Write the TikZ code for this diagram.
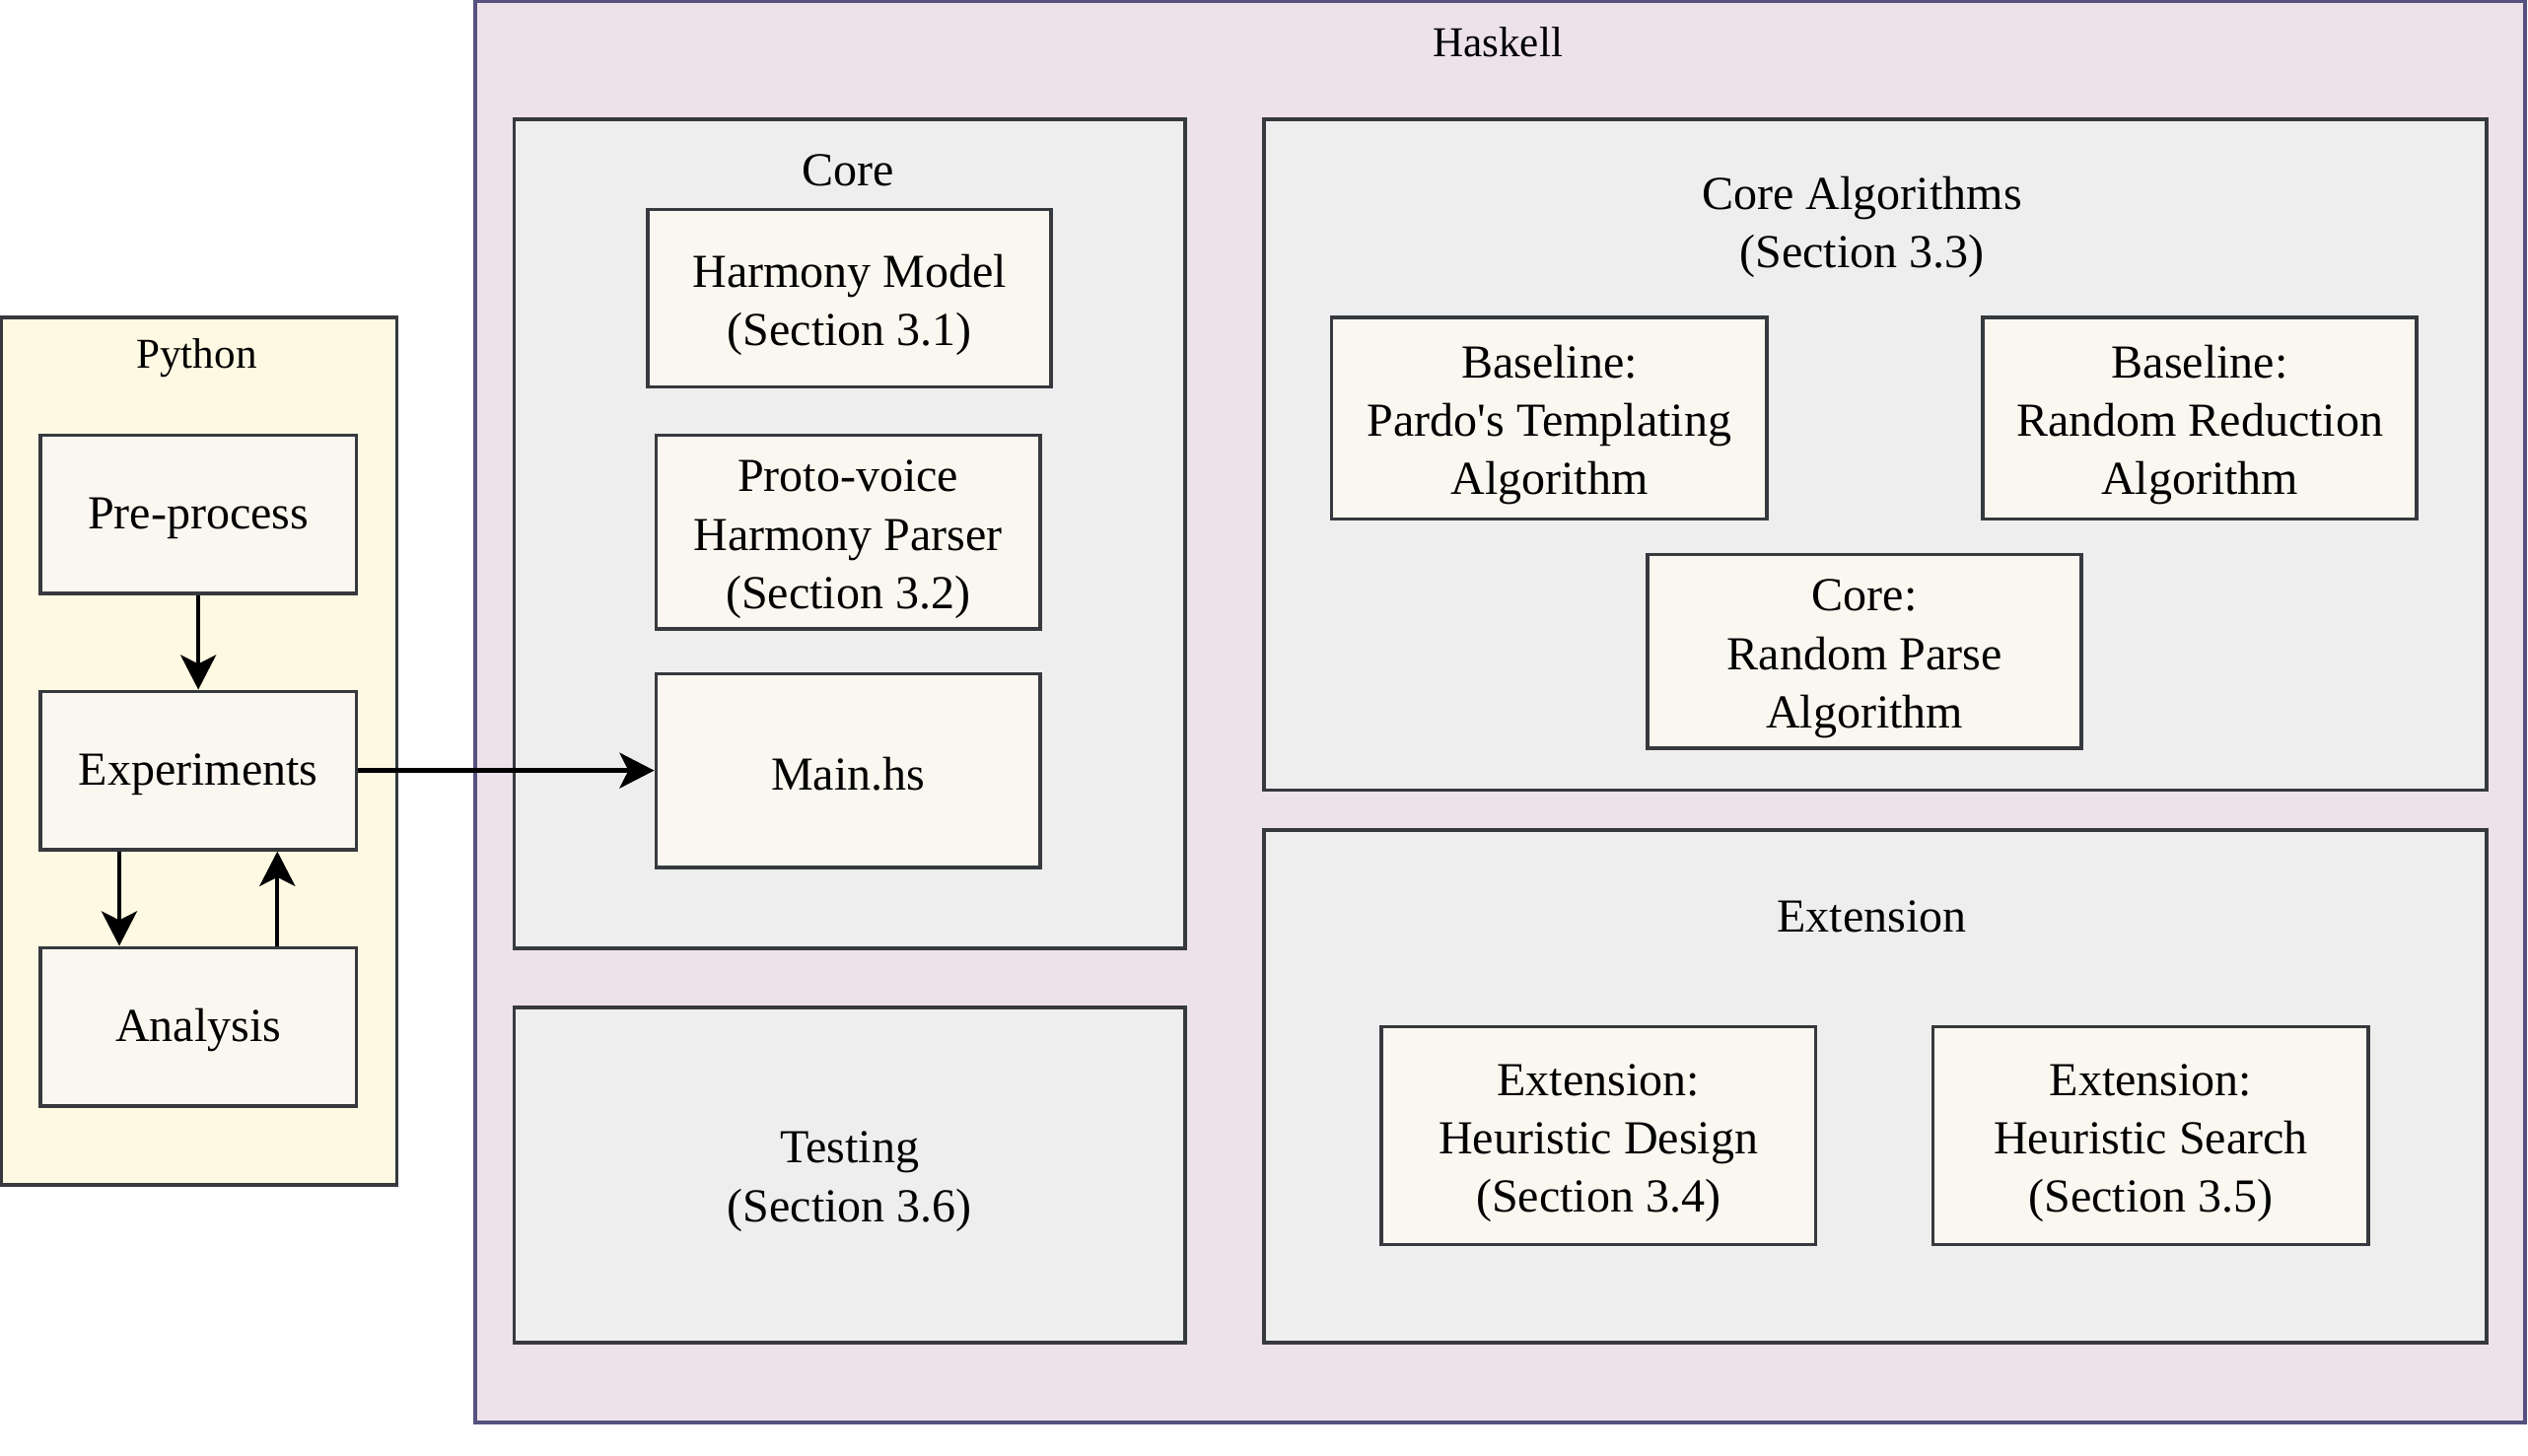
\documentclass[tikz,border=0pt]{standalone}
\usepackage{fontspec}
\setmainfont{Liberation Serif}[Ligatures=TeXOff]
\usetikzlibrary{arrows.meta}
\definecolor{pyfill}{HTML}{FEF9E2}
\definecolor{hsfill}{HTML}{EDE1EA}
\definecolor{hsline}{HTML}{56517E}
\definecolor{grayfill}{HTML}{EEEEEE}
\definecolor{boxfill}{HTML}{F9F7EF}
\definecolor{darkline}{HTML}{36393D}
\newcommand\myup{\rule{0pt}{8.2pt}}
\tikzset{
  container/.style={draw=darkline, line width=0.65pt, fill=grayfill, rectangle, inner sep=0pt},
  innerbox/.style={draw=darkline, line width=0.65pt, fill=boxfill, rectangle, align=center, inner sep=0pt,
    font=\fontsize{8.35}{10.3}\selectfont},
  singlebox/.style={innerbox, execute at begin node={\rule{0pt}{7.1pt}}},
  lbl/.style={align=center, inner sep=0pt, font=\fontsize{8.35}{10.3}\selectfont},
  smalllbl/.style={align=center, inner sep=0pt, font=\fontsize{7.5}{9}\selectfont},
  conn/.style={line width=0.75pt, -{Stealth[length=0.215cm, width=0.22cm, inset=0.055cm]}}
}
\begin{document}
\begin{tikzpicture}[x=0.01cm, y=-0.01cm]
\useasboundingbox (0,0) rectangle (1568,903);
% Python container
\node[container, fill=pyfill, minimum width=2.45cm, minimum height=5.38cm] (python) at (123.5,466) {};
\node[smalllbl] (pytitle) at (122,222) {Python};
\node[singlebox, minimum width=1.96cm, minimum height=0.98cm] (pre) at (123,319) {Pre-process};
\node[singlebox, minimum width=1.96cm, minimum height=0.98cm] (exp) at (123,478) {Experiments};
\node[singlebox, minimum width=1.96cm, minimum height=0.98cm] (ana) at (123,637) {Analysis};
% Haskell container
\node[container, fill=hsfill, draw=hsline, minimum width=12.71cm, minimum height=8.81cm] (haskell) at (930.5,441.5) {};
\node[smalllbl] (hstitle) at (929,26) {Haskell};
% Core
\node[container, minimum width=4.16cm, minimum height=5.14cm] (core) at (527,331) {};
\node[lbl] (coretitle) at (526,105.5) {Core};
\node[innerbox, minimum width=2.5cm, minimum height=1.1cm] (harmony) at (527,185) {\myup Harmony Model\\(Section 3.1)};
\node[innerbox, minimum width=2.38cm, minimum height=1.2cm] (proto) at (526,330) {\myup Proto-voice\\Harmony Parser\\(Section 3.2)};
\node[singlebox, minimum width=2.38cm, minimum height=1.2cm] (main) at (526,478) {Main.hs};
% Testing
\node[container, minimum width=4.16cm, minimum height=2.08cm] (testing) at (527,729) {};
\node[lbl] (testinglbl) at (527,733) {Testing\\(Section 3.6)};
% Core algorithms
\node[container, minimum width=7.58cm, minimum height=4.16cm] (corealg) at (1163,282) {};
\node[lbl] (coralgtitle) at (1155,141) {Core Algorithms\\(Section 3.3)};
\node[innerbox, minimum width=2.7cm, minimum height=1.25cm] (pardo) at (961,259.5) {\myup Baseline:\\Pardo's Templating\\Algorithm};
\node[innerbox, minimum width=2.69cm, minimum height=1.25cm] (randred) at (1364.5,259.5) {\myup Baseline:\\Random Reduction\\Algorithm};
\node[innerbox, minimum width=2.69cm, minimum height=1.2cm] (randparse) at (1156.5,404) {\myup Core:\\Random Parse\\Algorithm};
% Extension
\node[container, minimum width=7.58cm, minimum height=3.18cm] (extension) at (1163,674) {};
\node[lbl] (exttitle) at (1161,568.5) {Extension};
\node[innerbox, minimum width=2.69cm, minimum height=1.35cm] (heurdesign) at (991.5,704.5) {\myup Extension:\\Heuristic Design\\(Section 3.4)};
\node[innerbox, minimum width=2.7cm, minimum height=1.35cm] (heursearch) at (1334,704.5) {\myup Extension:\\Heuristic Search\\(Section 3.5)};
% Connectors
\draw[conn] (pre.south) -- (exp.north);
\draw[conn] ([xshift=-0.49cm]exp.south) -- ([xshift=-0.49cm]ana.north);
\draw[conn] ([xshift=0.49cm]ana.north) -- ([xshift=0.49cm]exp.south);
\draw[conn] (exp.east) -- (main.west);
\end{tikzpicture}
\end{document}
